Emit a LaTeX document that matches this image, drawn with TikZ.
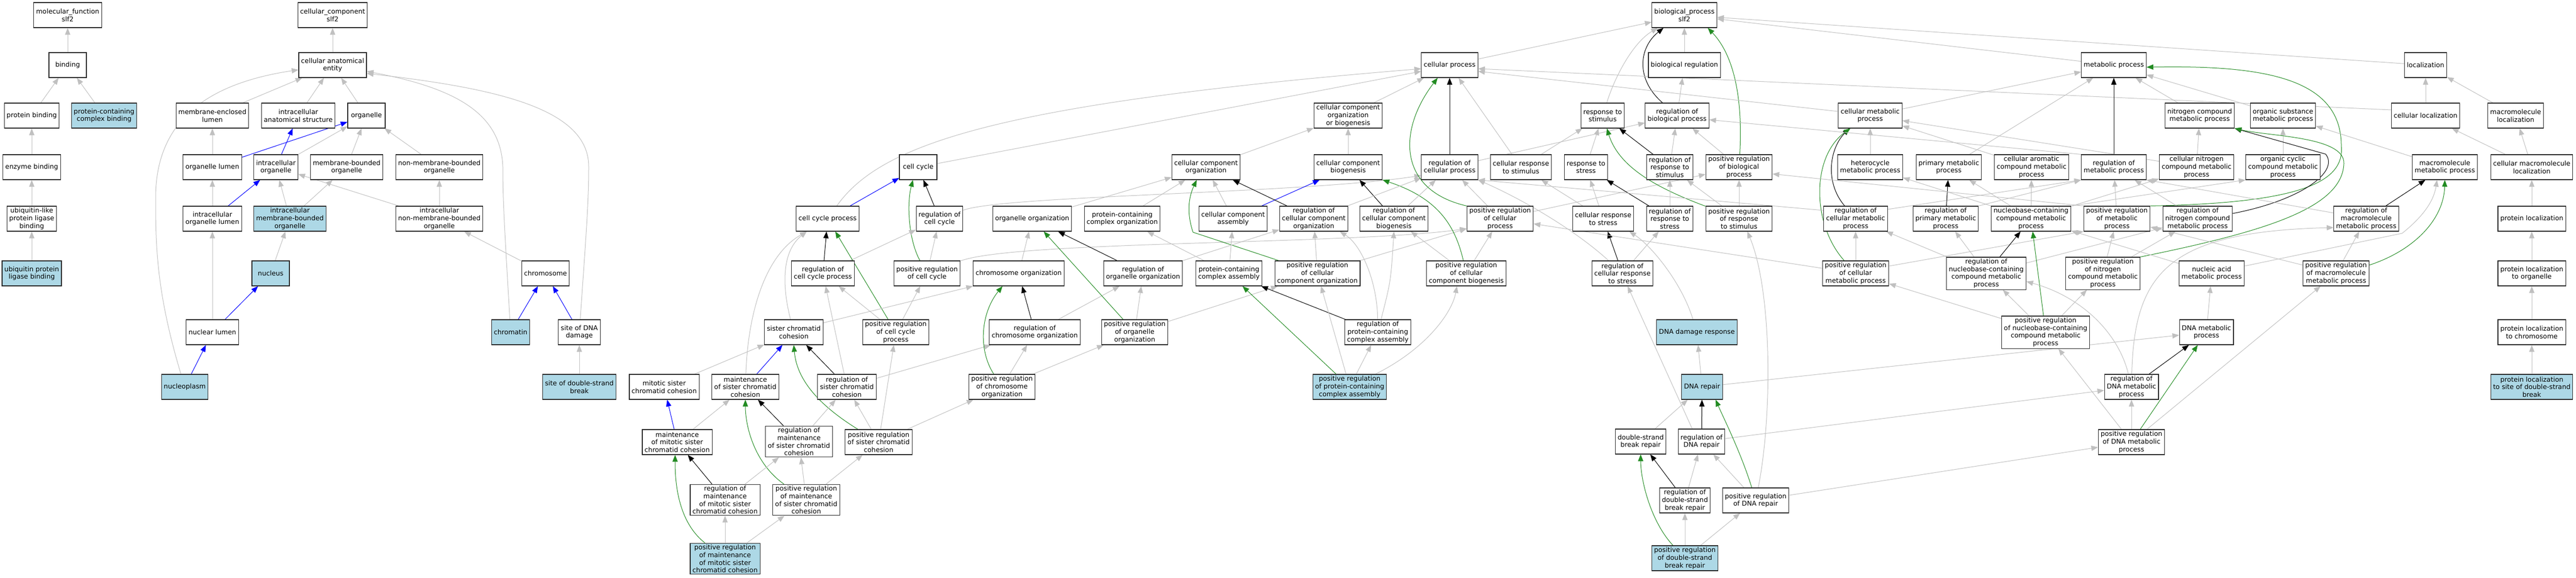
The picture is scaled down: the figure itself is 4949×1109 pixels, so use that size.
\documentclass[tikz,border=0pt]{standalone}
\usepackage{fontspec}
\setmainfont{DejaVu Sans}
\usetikzlibrary{arrows.meta,backgrounds}
\definecolor{isagray}{HTML}{C0C0C0}
\definecolor{hitblue}{HTML}{ADD8E6}
\definecolor{posgreen}{HTML}{228B22}
\newcommand{\termfont}{\fontsize{12.7}{14.6}\selectfont}
\begin{document}
\begin{tikzpicture}[x=1pt,y=-1pt,
    term/.style={draw=black!85,line width=1.1pt,fill=white,align=center,font=\termfont,inner xsep=4.5pt,inner ysep=3pt,minimum width=72pt,minimum height=48pt},
    hit/.style={term,fill=hitblue},
    isa/.style={draw=isagray,line width=1pt,-{Triangle[length=13pt,width=10pt]}},
    partof/.style={isa,draw=blue},
    regul/.style={isa,draw=black},
    posreg/.style={isa,draw=posgreen}]
    \useasboundingbox (0,0) rectangle (4949,1109);
    %% Molecular function
    \node[term] (mf) at (130,29) {molecular\_function\\slf2};
    \node[term] (bind) at (130,125) {binding};
    \node[term] (protbind) at (61,222) {protein binding};
    \node[hit] (pcbind) at (200,222) {protein-containing\\complex binding};
    \node[term] (enzbind) at (61,321) {enzyme binding};
    \node[term] (ublbind) at (61,420) {ubiquitin-like\\protein ligase\\binding};
    \node[hit] (ubind) at (61,525) {ubiquitin protein\\ligase binding};
    %% Cellular component
    \node[term] (cc0) at (639,29) {cellular\_component\\slf2};
    \node[term] (cae) at (639,125) {cellular anatomical\\entity};
    \node[term] (mel) at (408,222) {membrane-enclosed\\lumen};
    \node[term] (ias) at (573,222) {intracellular\\anatomical structure};
    \node[term] (org) at (704,222) {organelle};
    \node[term] (orglum) at (408,321) {organelle lumen};
    \node[term] (iorg) at (530,321) {intracellular\\organelle};
    \node[term] (mbo) at (666,321) {membrane-bounded\\organelle};
    \node[term] (nmbo) at (844,321) {non-membrane-bounded\\organelle};
    \node[term] (iol) at (408,420) {intracellular\\organelle lumen};
    \node[hit] (imbo) at (557,420) {intracellular\\membrane-bounded\\organelle};
    \node[term] (inmbo) at (844,420) {intracellular\\non-membrane-bounded\\organelle};
    \node[hit] (nuc) at (520,525) {nucleus};
    \node[term] (chrom) at (1048,525) {chromosome};
    \node[term] (nlum) at (408,638) {nuclear lumen};
    \node[hit] (chrt) at (981,638) {chromatin};
    \node[term] (sodd) at (1113,638) {site of DNA\\damage};
    \node[hit] (nucp) at (355,743) {nucleoplasm};
    \node[hit] (sdsb) at (1113,743) {site of double-strand\\break};
    %% Biological process
    \node[term] (bp) at (3236,29) {biological\_process\\slf2};
    \node[term] (cp) at (2785,125) {cellular process};
    \node[term] (br) at (3236,125) {biological regulation};
    \node[term] (mp) at (4061,125) {metabolic process};
    \node[term] (loc) at (4660,125) {localization};
    \node[term] (ccob) at (2590,222) {cellular component\\organization\\or biogenesis};
    \node[term] (rstim) at (3079,222) {response to\\stimulus};
    \node[term] (rbp) at (3222,222) {regulation of\\biological process};
    \node[term] (cmp) at (3593,222) {cellular metabolic\\process};
    \node[term] (ncmp) at (4226,222) {nitrogen compound\\metabolic process};
    \node[term] (osmp) at (4386,222) {organic substance\\metabolic process};
    \node[term] (cloc) at (4660,222) {cellular localization};
    \node[term] (mloc) at (4833,222) {macromolecule\\localization};
    \node[term] (ccyc) at (1764,321) {cell cycle};
    \node[term] (cco) at (2317,321) {cellular component\\organization};
    \node[term] (ccb) at (2590,321) {cellular component\\biogenesis};
    \node[term] (rcp) at (2785,321) {regulation of\\cellular process};
    \node[term] (crstim) at (2922,321) {cellular response\\to stimulus};
    \node[term] (rstress) at (3047,321) {response to\\stress};
    \node[term] (rrstim) at (3208,321) {regulation of\\response to\\stimulus};
    \node[term] (prbp) at (3341,321) {positive regulation\\of biological\\process};
    \node[term] (hmp) at (3593,321) {heterocycle\\metabolic process};
    \node[term] (pmp) at (3744,321) {primary metabolic\\process};
    \node[term] (camp) at (3903,321) {cellular aromatic\\compound metabolic\\process};
    \node[term] (rmp) at (4061,321) {regulation of\\metabolic process};
    \node[term] (cnmp) at (4220,321) {cellular nitrogen\\compound metabolic\\process};
    \node[term] (ocmp) at (4386,321) {organic cyclic\\compound metabolic\\process};
    \node[term] (mmp) at (4697,321) {macromolecule\\metabolic process};
    \node[term] (cmloc) at (4864,321) {cellular macromolecule\\localization};
    \node[term] (ccp) at (1590,420) {cell cycle process};
    \node[term] (rcc) at (1805,420) {regulation of\\cell cycle};
    \node[term] (oo) at (1983,420) {organelle organization};
    \node[term] (pco) at (2156,420) {protein-containing\\complex organization};
    \node[term] (cca) at (2369,420) {cellular component\\assembly};
    \node[term] (rcco) at (2524,420) {regulation of\\cellular component\\organization};
    \node[term] (rccb) at (2678,420) {regulation of\\cellular component\\biogenesis};
    \node[term] (pcp) at (2882,420) {positive regulation\\of cellular\\process};
    \node[term] (crstress) at (3080,420) {cellular response\\to stress};
    \node[term] (rrstress) at (3208,420) {regulation of\\response to\\stress};
    \node[term] (prrstim) at (3341,420) {positive regulation\\of response\\to stimulus};
    \node[term] (rcmp) at (3565,420) {regulation of\\cellular metabolic\\process};
    \node[term] (rpmp) at (3738,420) {regulation of\\primary metabolic\\process};
    \node[term] (nbmp) at (3902,420) {nucleobase-containing\\compound metabolic\\process};
    \node[term] (prmp) at (4067,420) {positive regulation\\of metabolic\\process};
    \node[term] (rncmp) at (4222,420) {regulation of\\nitrogen compound\\metabolic process};
    \node[term] (rmmp) at (4546,420) {regulation of\\macromolecule\\metabolic process};
    \node[term] (ploc) at (4864,420) {protein localization};
    \node[term] (rccp) at (1581,525) {regulation of\\cell cycle process};
    \node[term] (pcc) at (1781,525) {positive regulation\\of cell cycle};
    \node[term] (co) at (1957,525) {chromosome organization};
    \node[term] (roo) at (2196,525) {regulation of\\organelle organization};
    \node[term] (pca) at (2361,525) {protein-containing\\complex assembly};
    \node[term] (pcco) at (2531,525) {positive regulation\\of cellular\\component organization};
    \node[term] (pccb) at (2817,525) {positive regulation\\of cellular\\component biogenesis};
    \node[term] (rcrstress) at (3117,525) {regulation of\\cellular response\\to stress};
    \node[term] (pcmp) at (3565,525) {positive regulation\\of cellular\\metabolic process};
    \node[term] (rnbmp) at (3816,525) {regulation of\\nucleobase-containing\\compound metabolic\\process};
    \node[term] (pncmp) at (4040,525) {positive regulation\\of nitrogen\\compound metabolic\\process};
    \node[term] (namp) at (4249,525) {nucleic acid\\metabolic process};
    \node[term] (pmmp) at (4488,525) {positive regulation\\of macromolecule\\metabolic process};
    \node[term] (plorg) at (4864,525) {protein localization\\to organelle};
    \node[term] (scc) at (1525,638) {sister chromatid\\cohesion};
    \node[term] (pccp) at (1721,638) {positive regulation\\of cell cycle\\process};
    \node[term] (rco) at (1988,638) {regulation of\\chromosome organization};
    \node[term] (poo) at (2180,638) {positive regulation\\of organelle\\organization};
    \node[term] (rpca) at (2647,638) {regulation of\\protein-containing\\complex assembly};
    \node[hit] (ddr) at (3260,638) {DNA damage response};
    \node[term] (pnbmp) at (3930,638) {positive regulation\\of nucleobase-containing\\compound metabolic\\process};
    \node[term] (dnamp) at (4239,638) {DNA metabolic\\process};
    \node[term] (plchr) at (4864,638) {protein localization\\to chromosome};
    \node[term] (mscc) at (1276,743) {mitotic sister\\chromatid cohesion};
    \node[term] (maint) at (1432,743) {maintenance\\of sister chromatid\\cohesion};
    \node[term] (rscc) at (1627,743) {regulation of\\sister chromatid\\cohesion};
    \node[term] (pchro) at (1925,743) {positive regulation\\of chromosome\\organization};
    \node[hit] (ppca) at (2593,743) {positive regulation\\of protein-containing\\complex assembly};
    \node[hit] (dnar) at (3270,743) {DNA repair};
    \node[term] (rdnamp) at (4095,743) {regulation of\\DNA metabolic\\process};
    \node[hit] (pldsb) at (4864,743) {protein localization\\to site of double-strand\\break};
    \node[term] (mmscc) at (1301,849) {maintenance\\of mitotic sister\\chromatid cohesion};
    \node[term] (rmaint) at (1535,848) {regulation of\\maintenance\\of sister chromatid\\cohesion};
    \node[term] (pscc) at (1688,849) {positive regulation\\of sister chromatid\\cohesion};
    \node[term] (dsbr) at (3152,848) {double-strand\\break repair};
    \node[term] (rdnar) at (3269,848) {regulation of\\DNA repair};
    \node[term] (pdnamp) at (4095,849) {positive regulation\\of DNA metabolic\\process};
    \node[term] (rmmscc) at (1393,960) {regulation of\\maintenance\\of mitotic sister\\chromatid cohesion};
    \node[term] (pmaint) at (1549,960) {positive regulation\\of maintenance\\of sister chromatid\\cohesion};
    \node[term] (rdsbr) at (3237,961) {regulation of\\double-strand\\break repair};
    \node[term] (pdnar) at (3373,961) {positive regulation\\of DNA repair};
    \node[hit] (pmmscc) at (1393,1073) {positive regulation\\of maintenance\\of mitotic sister\\chromatid cohesion};
    \node[hit] (pdsbr) at (3237,1072) {positive regulation\\of double-strand\\break repair};
    %% Edges
    \begin{scope}[on background layer]
    %% molecular function
    \draw[isa] (bind) -- (mf);
    \draw[isa] (protbind) -- (bind);
    \draw[isa] (pcbind) -- (bind);
    \draw[isa] (enzbind) -- (protbind);
    \draw[isa] (ublbind) -- (enzbind);
    \draw[isa] (ubind) -- (ublbind);
    %% cellular component
    \draw[isa] (cae) -- (cc0);
    \draw[isa] (mel) -- (cae);
    \draw[isa] (ias) -- (cae);
    \draw[isa] (org) -- (cae);
    \draw[isa] (nucp) .. controls (300,560) and (299,470) .. (299,380) .. controls (299,230) and (400,160) .. ([yshift=-9pt]cae.west);
    \draw[isa] (chrt) .. controls (970,450) and (966,390) .. (966,320) .. controls (962,220) and (880,170) .. ([yshift=-12pt]cae.east);
    \draw[isa] (sodd) .. controls (1126,450) and (1131,390) .. (1131,320) .. controls (1131,210) and (960,170) .. ([yshift=-16pt]cae.east);
    \draw[isa] (orglum) -- (mel);
    \draw[partof] (orglum) -- (org);
    \draw[partof] (iorg) -- (ias);
    \draw[isa] (iorg) -- (org);
    \draw[isa] (mbo) -- (org);
    \draw[isa] (nmbo) -- (org);
    \draw[isa] (iol) -- (orglum);
    \draw[partof] (iol) -- (iorg);
    \draw[isa] (imbo) -- (iorg);
    \draw[isa] (imbo) -- (mbo);
    \draw[isa] (inmbo) -- (iorg);
    \draw[isa] (inmbo) -- (nmbo);
    \draw[isa] (nuc) -- (imbo);
    \draw[isa] (nlum) -- (iol);
    \draw[partof] (nlum) -- (nuc);
    \draw[partof] (nucp) -- (nlum);
    \draw[isa] (chrom) -- (inmbo);
    \draw[partof] (chrt) -- (chrom);
    \draw[partof] (sodd) -- (chrom);
    \draw[isa] (sdsb) -- (sodd);
    %% cell cycle
    \draw[isa] (ccp) .. controls (1690,280) and (1900,200) .. ([yshift=-7pt]cp.west);
    \draw[isa] (ccyc) -- ([yshift=-12pt]cp.west);
    \draw[partof] (ccp) -- (ccyc);
    \draw[regul] (rcc) -- (ccyc);
    \draw[posreg] (pcc) .. controls (1745,460) and (1742,390) .. ([xshift=-10pt]ccyc.south);
    \draw[isa] (rcc) .. controls (1930,375) and (2500,372) .. ([yshift=-16pt]rcp.west);
    \draw[isa] (pcc) -- (rcc);
    \draw[isa] (pcc) .. controls (1950,462) and (2600,470) .. ([yshift=-19pt]pcp.west);
    \draw[isa] (rccp) -- (rcc);
    \draw[regul] (rccp) -- (ccp);
    \draw[posreg] (pccp) -- (ccp);
    \draw[isa] (pccp) -- (rccp);
    \draw[isa] (pccp) -- (pcc);
    \draw[isa] (scc) .. controls (1500,540) and (1505,480) .. ([xshift=-40pt]ccp.south);
    \draw[isa] (maint) .. controls (1437,600) and (1470,490) .. ([xshift=-40pt]ccp.south);
    \draw[isa] ([yshift=18pt]scc.east) -- (co.south west);
    %% sister chromatid cohesion
    \draw[isa] (mscc) -- (scc);
    \draw[partof] (maint) -- (scc);
    \draw[regul] (rscc) -- (scc);
    \draw[posreg] (pscc) .. controls (1560,770) and (1530,720) .. (scc.south);
    \draw[isa] (rscc) -- (rccp);
    \draw[isa] (rscc) -- (rco);
    \draw[partof] (mmscc) -- (mscc);
    \draw[isa] (mmscc) -- (maint);
    \draw[regul] (rmaint) -- (maint);
    \draw[isa] (rmaint) -- (rscc);
    \draw[posreg] (pmaint) .. controls (1450,890) and (1432,820) .. (maint.south);
    \draw[isa] (pmaint) -- (rmaint);
    \draw[isa] (pmaint) -- (pscc);
    \draw[isa] (pscc) -- (rscc);
    \draw[isa] (pscc) -- (pccp);
    \draw[isa] (pscc) -- (pchro);
    \draw[regul] (rmmscc) -- (mmscc);
    \draw[isa] (rmmscc) -- (rmaint);
    \draw[posreg] (pmmscc) .. controls (1300,1000) and (1297,920) .. ([xshift=-4pt]mmscc.south);
    \draw[isa] (pmmscc) -- (rmmscc);
    \draw[isa] (pmmscc) -- (pmaint);
    %% organization
    \draw[isa] (co) -- (oo);
    \draw[regul] (rco) -- (co);
    \draw[posreg] (pchro) .. controls (1878,670) and (1885,600) .. ([xshift=-31pt]co.south);
    \draw[isa] (pchro) -- (rco);
    \draw[isa] (pchro) -- (poo);
    \draw[isa] (rco) -- (roo);
    \draw[isa] (oo) -- (cco);
    \draw[isa] (pco) -- (cco);
    \draw[isa] (cca) -- (cco);
    \draw[partof] (cca) -- (ccb);
    \draw[regul] (rcco) -- (cco);
    \draw[posreg] (pcco) -- (2292,446) .. controls (2280,410) and (2283,380) .. ([xshift=-18pt]cco.south);
    \draw[isa] (pcco) -- (rcco);
    \draw[isa] (pcco) -- (pcp);
    \draw[regul] (roo) -- (oo);
    \draw[isa] (roo) -- (rcco);
    \draw[posreg] (poo) -- (oo);
    \draw[isa] (poo) -- (roo);
    \draw[isa] (poo) -- (pcco);
    \draw[isa] (pca) -- (pco);
    \draw[isa] (pca) -- (cca);
    \draw[regul] (rpca) -- (pca);
    \draw[posreg] (ppca) -- (pca);
    \draw[isa] (ppca) -- (rpca);
    \draw[isa] (ppca) -- (pcco);
    \draw[isa] (ppca) .. controls (2740,670) and (2790,600) .. ([xshift=-18pt]pccb.south);
    \draw[isa] (rpca) .. controls (2646,540) and (2615,470) .. ([xshift=50pt]rcco.south);
    \draw[isa] (rpca) .. controls (2672,540) .. (rccb.south);
    \draw[isa] (cco) -- (ccob);
    \draw[isa] (ccb) -- (ccob);
    \draw[isa] (ccob) -- (cp);
    \draw[regul] (rccb) -- (ccb);
    \draw[posreg] (pccb) .. controls (2795,430) and (2760,380) .. (ccb.south east);
    \draw[isa] (pccb) -- (rccb);
    \draw[isa] (pccb) -- (pcp);
    \draw[isa] (rcco) -- (rcp);
    \draw[isa] (rccb) -- (rcp);
    %% cellular process and regulation
    \draw[isa] (cp) -- (bp);
    \draw[isa] (br) -- (bp);
    \draw[isa] (mp) -- (bp);
    \draw[isa] (loc) -- (bp);
    \draw[isa] (rstim) .. controls (3105,140) and (3140,80) .. ([xshift=-51pt]bp.south);
    \draw[regul] (rbp) .. controls (3140,150) and (3150,90) .. ([xshift=-40pt]bp.south);
    \draw[posreg] (prbp) .. controls (3348,200) and (3335,110) .. ([xshift=-18pt]bp.south east);
    \draw[isa] (rbp) -- (br);
    \draw[isa] (prbp) -- (rbp);
    \draw[regul] (rcp) -- (cp);
    \draw[posreg] (pcp.north west) .. controls (2685,365) and (2685,250) .. ([xshift=-23pt]cp.south);
    \draw[isa] (crstim) -- (cp);
    \draw[isa] (rcp) -- (rbp);
    \draw[isa] (pcp) -- (rcp);
    \draw[isa] (pcp) -- (prbp);
    \draw[isa] (crstim) -- (rstim);
    \draw[isa] (rstress) -- (rstim);
    \draw[regul] (rrstim) -- (rstim);
    \draw[posreg] (prrstim) .. controls (3180,360) and (3110,320) .. ([xshift=8pt]rstim.south);
    \draw[isa] (rrstim) -- (rbp);
    \draw[isa] (crstress) -- (rstress);
    \draw[regul] (rrstress) -- (rstress);
    \draw[isa] (crstress) -- (crstim);
    \draw[isa] (rrstress) -- (rrstim);
    \draw[isa] (prrstim) -- (rrstim);
    \draw[isa] (prrstim) -- (prbp);
    \draw[regul] (rcrstress) -- (crstress);
    \draw[isa] (rcrstress) -- (rrstress);
    \draw[isa] (rcrstress) .. controls (3030,445) and (2930,385) .. (rcp.south east);
    \draw[isa] (ddr) .. controls (3230,540) and (3170,470) .. ([xshift=-9pt]crstress.south east);
    %% DNA repair
    \draw[isa] (dnar) -- (ddr);
    \draw[isa] (dnar) -- (dnamp);
    \draw[isa] (dsbr) -- (dnar);
    \draw[regul] (rdnar) -- (dnar);
    \draw[isa] ([xshift=-18pt]rdnar.north) -- ([xshift=10pt]rcrstress.south);
    \draw[isa] (rdnar) -- (rdnamp);
    \draw[regul] (rdsbr) -- (dsbr);
    \draw[isa] (rdsbr) -- (rdnar);
    \draw[posreg] (pdsbr) .. controls (3170,1000) and (3152,920) .. (dsbr.south);
    \draw[isa] (pdsbr) -- (rdsbr);
    \draw[isa] (pdsbr) -- (pdnar);
    \draw[posreg] (pdnar) .. controls (3345,870) and (3310,800) .. ([xshift=26pt]dnar.south);
    \draw[isa] (pdnar) -- (rdnar);
    \draw[isa] (pdnar) .. controls (3405,800) and (3405,560) .. ([xshift=16pt]prrstim.south);
    \draw[isa] (pdnar) -- (pdnamp);
    %% metabolic process
    \draw[isa] ([yshift=8pt]cmp.west) -- ([yshift=-12pt]cp.east);
    \draw[isa] ([yshift=11pt]cloc.west) -- ([yshift=-7pt]cp.east);
    \draw[isa] (cmp) -- (mp);
    \draw[isa] (pmp) -- (mp);
    \draw[regul] (rmp) -- (mp);
    \draw[isa] (ncmp) -- (mp);
    \draw[isa] (osmp) -- (mp);
    \draw[posreg] (prmp.north east) .. controls (4420,390) and (4505,350) .. (4498,280) .. controls (4498,150) and (4350,125) .. ([yshift=-4pt]mp.east);
    \draw[isa] (hmp) -- (cmp);
    \draw[isa] (camp) -- (cmp);
    \draw[regul] (rcmp) .. controls (3505,350) and (3515,285) .. ([xshift=-40pt]cmp.south);
    \draw[posreg] (pcmp) .. controls (3480,430) and (3480,300) .. ([xshift=-38pt]cmp.south);
    \draw[isa] (cnmp) -- (cmp);
    \draw[isa] (rmp.north west) -- ([yshift=-8pt]rbp.east);
    \draw[isa] (prmp.north west) -- ([yshift=-13pt]prbp.east);
    \draw[isa] (prmp) -- (rmp);
    \draw[isa] ([yshift=18pt]rcmp.east) -- (rmp.south west);
    \draw[isa] ([yshift=16pt]rcmp.west) -- (rcp.south east);
    \draw[regul] (rpmp) -- (pmp);
    \draw[isa] (rpmp.north east) -- (rmp.south west);
    \draw[isa] (nbmp) -- (hmp);
    \draw[isa] (nbmp) -- (pmp);
    \draw[isa] (nbmp) -- (camp);
    \draw[isa] (nbmp) -- (cnmp);
    \draw[isa] (nbmp.north east) -- (ocmp.south west);
    \draw[isa] (cnmp) -- (ncmp);
    \draw[isa] (ocmp) -- (osmp);
    \draw[isa] (mmp) -- (osmp);
    \draw[regul] ([yshift=10pt]rncmp.east) .. controls (4420,385) and (4495,330) .. (4468,296) -- (ncmp.south east);
    \draw[posreg] (pncmp.north east) .. controls (4350,445) and (4500,400) .. (4503,314) .. controls (4505,262) and (4360,262) .. (ncmp.south east);
    \draw[isa] (rncmp) -- (rmp);
    \draw[isa] (rmmp) -- (rmp.south east);
    \draw[regul] (rmmp) -- (mmp);
    \draw[isa] (pcmp) -- (rcmp);
    \draw[isa] ([yshift=14pt]pcmp.east) -- (prmp.south west);
    \draw[isa] (pcmp) -- (pcp);
    \draw[regul] (rnbmp) -- (nbmp);
    \draw[isa] (rnbmp) -- (rpmp);
    \draw[isa] (rnbmp) -- (rcmp);
    \draw[isa] (rnbmp) -- (rncmp);
    \draw[isa] (pncmp) -- (prmp);
    \draw[isa] (pncmp) -- (rncmp);
    \draw[isa] (namp) -- (nbmp);
    \draw[isa] ([yshift=14pt]namp.east) -- (4615,448) .. controls (4650,420) and (4675,390) .. ([xshift=-15pt]mmp.south);
    \draw[isa] (pmmp) -- (rmmp);
    \draw[posreg] ([yshift=16pt]pmmp.east) .. controls (4640,480) and (4695,420) .. (mmp.south);
    \draw[isa] (pmmp) -- (prmp);
    \draw[isa] (pnbmp) -- (rnbmp);
    \draw[posreg] (pnbmp) -- (nbmp);
    \draw[isa] (pnbmp) -- (pncmp);
    \draw[isa] (pnbmp) -- (pcmp);
    \draw[isa] (dnamp) -- (namp);
    \draw[regul] (rdnamp) -- (dnamp);
    \draw[isa] (rdnamp) .. controls (4070,640) and (4000,570) .. ([yshift=16pt]rnbmp.south east);
    \draw[isa] (rdnamp) .. controls (4100,520) and (4170,445) .. ([yshift=-17pt]rmmp.west);
    \draw[posreg] (pdnamp) -- (dnamp);
    \draw[isa] (pdnamp) -- (rdnamp);
    \draw[isa] (pdnamp) -- (pnbmp);
    \draw[isa] (pdnamp) -- (pmmp);
    %% localization
    \draw[isa] (cloc) -- (loc);
    \draw[isa] (mloc) -- (loc);
    \draw[isa] (cmloc) -- (cloc);
    \draw[isa] (cmloc) -- (mloc);
    \draw[isa] (ploc) -- (cmloc);
    \draw[isa] (plorg) -- (ploc);
    \draw[isa] (plchr) -- (plorg);
    \draw[isa] (pldsb) -- (plchr);
    \end{scope}
\end{tikzpicture}
\end{document}
